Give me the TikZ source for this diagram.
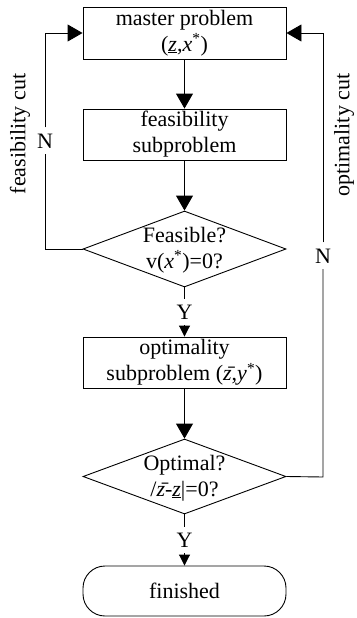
\documentclass[tikz,border=0pt]{standalone}
\usepackage{fontspec}
\setmainfont{Liberation Serif}
\usetikzlibrary{arrows.meta,shapes.geometric}
\begin{document}
\begin{tikzpicture}[x=1pt,y=-1pt,
  font=\fontsize{22}{26}\selectfont,
  every node/.style={inner sep=0pt},
  proc/.style={draw,line width=0.9pt,minimum width=203pt,minimum height=51pt,align=center},
  decision/.style={draw,line width=0.9pt,diamond,minimum width=203pt,minimum height=76pt},
  terminal/.style={draw,line width=0.9pt,rounded corners=22pt,minimum width=203pt,minimum height=50pt},
  flow/.style={line width=0.9pt,-{Triangle[length=15pt,width=17pt]}},
  shortflow/.style={line width=0.9pt,-{Triangle[length=11pt,width=11pt]}},
  tag/.style={fill=white,inner xsep=3pt,inner ysep=6pt}]
\useasboundingbox (0,0) rectangle (356,618);

% process boxes and decisions
\node[proc,minimum height=52pt] (master) at (184.5,33) {master problem\\(\underline{\textit{z}},\textit{x}\textsuperscript{*})};
\node[proc] (feas) at (184.5,134.5) {feasibility\\subproblem};
\node[decision] (d1) at (184.5,249) {};
\node[align=center] (d1text) at (184.5,250) {Feasible?\\v(\textit{x}\textsuperscript{*})=0?};
\node[proc] (opt) at (184.5,362.5) {optimality\\subproblem (\={\textit{z}},\textit{y}\textsuperscript{*})};
\node[decision,minimum height=75pt] (d2) at (184.5,476.5) {};
\node[align=center] (d2text) at (184.5,478) {Optimal?\\/\={\textit{z}}-\underline{\textit{z}}|=0?};
\node[terminal] (fin) at (184.5,591) {finished};

% main flow
\draw[flow] (master) -- (feas);
\draw[flow] (feas) -- (d1);
\draw[shortflow] (d1.south) -- node[tag] (y1) {Y} (opt.north);
\draw[flow] (opt) -- (d2);
\draw[shortflow] (d2.south) -- node[tag] (y2) {Y} (fin.north);

% feedback cuts
\coordinate (lb) at (45,249);
\coordinate (lt) at (45,33);
\coordinate (rb) at (323,477);
\coordinate (rt) at (323,33);
\draw[line width=0.9pt] (d1.west) -- (lb) -- (45,141) node[tag] (n1) {N};
\draw[flow] (n1) -- (lt) -- (master.west);
\draw[line width=0.9pt] (d2.east) -- (rb) -- (323,256) node[tag] (n2) {N};
\draw[flow] (n2) -- (rt) -- (master.east);

\node[rotate=90] (fc) at (20,134) {feasibility cut};
\node[rotate=90] (oc) at (344,135) {optimality cut};
\end{tikzpicture}
\end{document}
